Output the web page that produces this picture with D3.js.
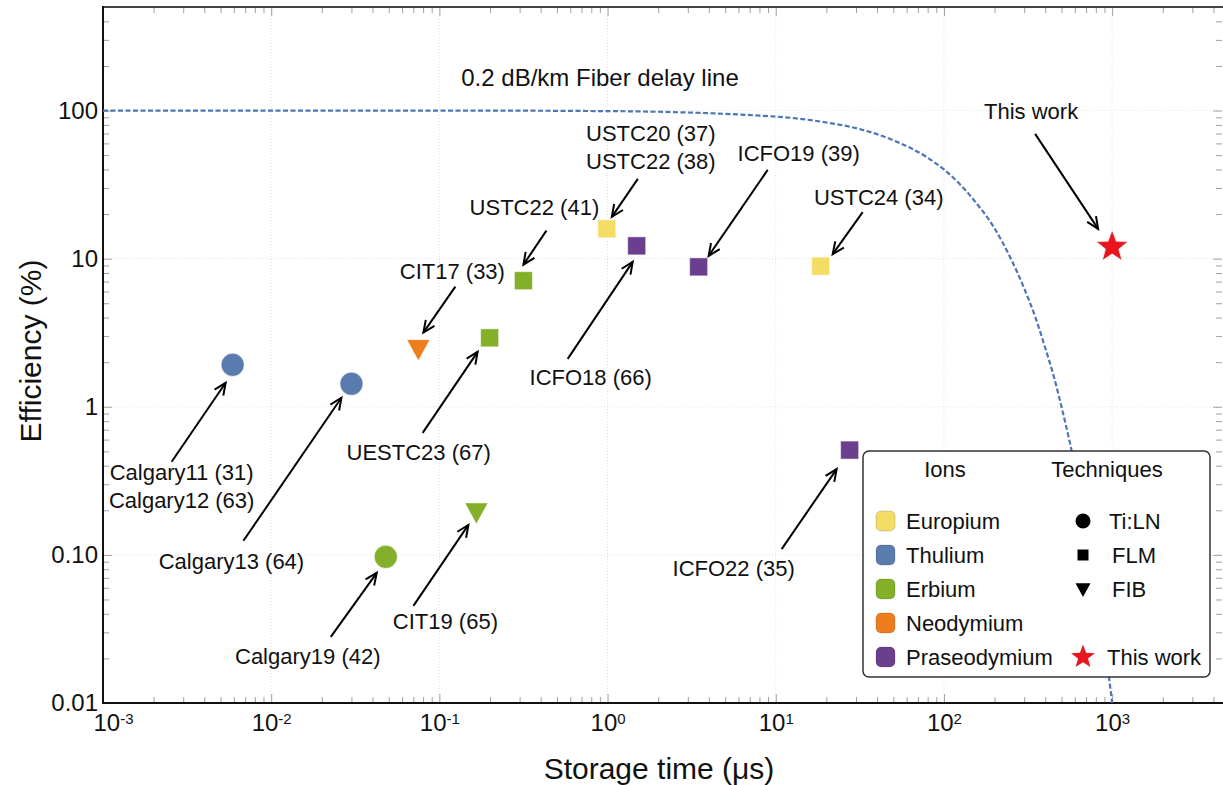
<!DOCTYPE html>
<html>
<head>
<meta charset="utf-8">
<script src="https://cdn.jsdelivr.net/npm/d3@7/dist/d3.min.js"></script>
<style>
  body { margin: 0; background: #fff; }
  text { font-family: "Liberation Sans", Arial, sans-serif; fill: #111; }
</style>
</head>
<body>
<svg id="chart" width="1223" height="785"></svg>
<script>

// ---- data ----
var names = ['Calgary11', 'Calgary13', 'Calgary19', 'CIT17', 'CIT19', 'UESTC23', 'USTC22', 'USTC20', 'ICFO18', 'ICFO19', 'USTC24', 'ICFO22', 'This work']
var times = [0.0059, 0.030, 0.048, 0.075, 0.166, 0.199, 0.316, 0.99, 1.49, 3.48, 18.5, 27.5, 1000]   // storage time, us
var effs = [1.92, 1.43, 0.097, 2.47, 0.195, 2.92, 7.1, 15.9, 12.2, 8.8, 8.9, 0.51, 12.0]            // efficiency, %
var ions = ['Thulium', 'Thulium', 'Erbium', 'Neodymium', 'Erbium', 'Erbium', 'Erbium', 'Europium', 'Praseodymium', 'Praseodymium', 'Europium', 'Praseodymium', 'This work']
var techs = ['Ti:LN', 'Ti:LN', 'Ti:LN', 'FIB', 'FIB', 'FLM', 'FLM', 'FLM', 'FLM', 'FLM', 'FLM', 'FLM', 'This work']
var labels = [
	['Calgary11 (31)', 'Calgary12 (63)'], ['Calgary13 (64)'], ['Calgary19 (42)'], ['CIT17 (33)'],
	['CIT19 (65)'], ['UESTC23 (67)'], ['USTC22 (41)'], ['USTC20 (37)', 'USTC22 (38)'], ['ICFO18 (66)'],
	['ICFO19 (39)'], ['USTC24 (34)'], ['ICFO22 (35)'], ['This work']
]

// 0.2 dB/km fiber delay line
var fiberTimes = [0.001, 0.1, 1, 10, 20, 30, 50, 80, 100, 150, 200, 250, 300, 350, 400, 450, 500, 550, 600, 650, 700, 750, 800, 850, 900, 950, 1000]
var fiberEffs = [100, 100, 99.1, 91, 83, 76, 63, 48, 40, 25, 16, 10, 6.3, 4, 2.5, 1.6, 1.0, 0.63, 0.4, 0.25, 0.16, 0.1, 0.063, 0.04, 0.025, 0.016, 0.01]

var ionNames = ['Europium', 'Thulium', 'Erbium', 'Neodymium', 'Praseodymium']
var techNames = ['Ti:LN', 'FLM', 'FIB']
var xTicks = [1e-3, 1e-2, 1e-1, 1, 10, 100, 1000]
var yTicks = [0.01, 0.1, 1, 10, 100]
var yTickLabels = ['0.01', '0.10', '1', '10', '100']

// ---- look ----
var ionColor = {
	'Europium': '#f3dd64',
	'Thulium': '#5a7bad',
	'Erbium': '#83af29',
	'Neodymium': '#ee7d1e',
	'Praseodymium': '#6c3e8e',
	'This work': '#e8141e'
}

// label / arrow offsets from each point, px
var notes = [
	{lx: -51, ly: 108, tail: [-61, 97], head: [-7, 18]},
	{lx: -120, ly: 178, tail: [-108, 157], head: [-10, 14]},
	{lx: -78, ly: 100, tail: [-55, 80], head: [-9, 16]},
	{lx: 34, ly: -77, tail: [37, -62], head: [5, -16]},
	{lx: -31, ly: 110, tail: [-63, 94], head: [-8, 13]},
	{lx: -71, ly: 115, tail: [-67, 95], head: [-12, 14]},
	{lx: 11, ly: -73, tail: [23, -50], head: [0, -16]},
	{lx: 44, ly: -95, tail: [31, -50], head: [5, -12]},
	{lx: -46, ly: 132, tail: [-69, 113], head: [-4, 16]},
	{lx: 100, ly: -113, tail: [69, -97], head: [10, -11]},
	{lx: 58, ly: -69, tail: [42, -54], head: [12, -12]},
	{lx: -116, ly: 118, tail: [-68, 99], head: [-13, 19]},
	{lx: -81, ly: -135, tail: [-77, -113], head: [-14, -18]}
]

var W = 1223, H = 785
var plot = {left: 103, right: 1222, top: 7, bottom: 703}

var svg = d3.select('#chart')

var x = d3.scaleLog().domain([1e-3, 4500]).range([plot.left, plot.right])
var y = d3.scaleLog().domain([0.01, 500]).range([plot.bottom, plot.top])

// minor tick values
function minors(lo, hi){
	var out = []
	for(var e = lo; e < hi; e++){
		for(var k = 2; k < 10; k++){
			var v = k * Math.pow(10, e)
			out.push(v)
		}
	}
	return out
}
var xMinor = minors(-3, 4).filter(function(v){ return v < 4500 })
var yMinor = minors(-2, 3).filter(function(v){ return v < 500 })

// grid
svg.append('g').selectAll('line').data(xTicks).enter().append('line')
	.attr('x1', function(d){ return x(d) }).attr('x2', function(d){ return x(d) })
	.attr('y1', plot.top).attr('y2', plot.bottom)
	.attr('stroke', '#e2e2e2').attr('stroke-dasharray', '1,2')
svg.append('g').selectAll('line').data(yTicks).enter().append('line')
	.attr('y1', function(d){ return y(d) }).attr('y2', function(d){ return y(d) })
	.attr('x1', plot.left).attr('x2', plot.right)
	.attr('stroke', '#e2e2e2').attr('stroke-dasharray', '1,2')

// ticks on the four sides (pointing inward)
function tickAxis(axisFn, scale, vals, size, tr){
	var g = svg.append('g').attr('transform', tr)
		.call(axisFn(scale).tickValues(vals).tickSize(size).tickFormat(''))
	g.select('.domain').remove()
	g.selectAll('.tick line').attr('stroke', '#a0a0a0')
	return g
}
tickAxis(d3.axisBottom, x, xMinor, -6, 'translate(0,' + plot.bottom + ')')
tickAxis(d3.axisBottom, x, xTicks, -9, 'translate(0,' + plot.bottom + ')')
tickAxis(d3.axisTop, x, xMinor, -6, 'translate(0,' + plot.top + ')')
tickAxis(d3.axisTop, x, xTicks, -9, 'translate(0,' + plot.top + ')')
tickAxis(d3.axisLeft, y, yMinor, -6, 'translate(' + plot.left + ',0)')
tickAxis(d3.axisLeft, y, yTicks, -9, 'translate(' + plot.left + ',0)')
tickAxis(d3.axisRight, y, yMinor, -6, 'translate(' + plot.right + ',0)')
tickAxis(d3.axisRight, y, yTicks, -9, 'translate(' + plot.right + ',0)')

// tick labels
var xl = svg.append('g').attr('transform', 'translate(0,' + plot.bottom + ')')
	.call(d3.axisBottom(x).tickValues(xTicks).tickSize(0).tickPadding(11).tickFormat(''))
xl.select('.domain').remove()
xl.selectAll('.tick text').each(function(d, i){
	var t = d3.select(this).attr('font-size', 24).attr('fill', '#111')
	if(i == 0) t.attr('dx', 10)
	t.append('tspan').text('10')
	t.append('tspan').attr('dy', '-0.45em').attr('font-size', 15).text(String(Math.round(Math.log10(d))))
})

var yl = svg.append('g').attr('transform', 'translate(' + plot.left + ',0)')
	.call(d3.axisLeft(y).tickValues(yTicks).tickSize(0).tickPadding(5)
		.tickFormat(function(d, i){ return yTickLabels[i] }))
yl.select('.domain').remove()
yl.selectAll('.tick text').attr('font-size', 24).attr('fill', '#111')

// frame
svg.append('line').attr('x1', plot.left).attr('x2', W).attr('y1', plot.top).attr('y2', plot.top)
	.attr('stroke', '#444').attr('stroke-width', 2)
svg.append('line').attr('x1', plot.left).attr('x2', plot.left).attr('y1', plot.top - 1).attr('y2', plot.bottom + 1)
	.attr('stroke', '#111').attr('stroke-width', 2)
svg.append('line').attr('x1', plot.left).attr('x2', W).attr('y1', plot.bottom).attr('y2', plot.bottom)
	.attr('stroke', '#111').attr('stroke-width', 2)

// axis titles
svg.append('text').attr('x', 659).attr('y', 768).attr('text-anchor', 'middle')
	.attr('dominant-baseline', 'central').attr('font-size', 30).text('Storage time (μs)')
svg.append('text').attr('transform', 'translate(30,351) rotate(-90)').attr('text-anchor', 'middle')
	.attr('dominant-baseline', 'central').attr('font-size', 30).text('Efficiency (%)')

// fiber delay line
svg.append('clipPath').attr('id', 'clip').append('rect')
	.attr('x', plot.left).attr('y', plot.top).attr('width', plot.right - plot.left).attr('height', plot.bottom - plot.top)

var fiberLine = d3.line()
	.x(function(d, i){ return x(fiberTimes[i]) })
	.y(function(d, i){ return y(fiberEffs[i]) })
	.curve(d3.curveMonotoneX)
svg.append('path').datum(fiberTimes)
	.attr('d', fiberLine)
	.attr('clip-path', 'url(#clip)')
	.attr('fill', 'none').attr('stroke', '#4d76b4').attr('stroke-width', 2.2)
	.attr('stroke-dasharray', '5,2.5')
svg.append('text').attr('x', 600).attr('y', 77).attr('text-anchor', 'middle')
	.attr('dominant-baseline', 'central').attr('font-size', 24).text('0.2 dB/km Fiber delay line')

// marker shapes
function shapePath(tech, s){
	if(tech == 'Ti:LN') return d3.symbol(d3.symbolCircle, Math.PI * s * s)()
	if(tech == 'FLM') return d3.symbol(d3.symbolSquare, 4 * s * s)()
	if(tech == 'FIB') return 'M' + (-s) + ',' + (-0.78 * s) + 'L' + s + ',' + (-0.78 * s) + 'L0,' + (1.05 * s) + 'Z'
	// star
	var pts = []
	for(var k = 0; k < 10; k++){
		var r = k % 2 == 0 ? s : s * 0.42
		var a = -Math.PI / 2 + k * Math.PI / 5
		pts.push([r * Math.cos(a), r * Math.sin(a)])
	}
	return 'M' + pts.join('L') + 'Z'
}
var markerSize = {'Ti:LN': 11.5, 'FLM': 9, 'FIB': 11.5, 'This work': 16.5}

// points
svg.append('g').selectAll('path').data(names).enter().append('path')
	.attr('transform', function(d, i){ return 'translate(' + x(times[i]) + ',' + y(effs[i]) + ')' })
	.attr('d', function(d, i){ return shapePath(techs[i], markerSize[techs[i]]) })
	.attr('fill', function(d, i){ return ionColor[ions[i]] })
	.attr('stroke', 'rgba(255,255,255,0.5)').attr('stroke-width', 1)

// annotations
function arrow(g, x0, y0, x1, y1){
	var ang = Math.atan2(y1 - y0, x1 - x0), len = 13, spread = 0.42
	g.append('line').attr('x1', x0).attr('y1', y0).attr('x2', x1).attr('y2', y1)
		.attr('stroke', '#000').attr('stroke-width', 2)
	var a = [x1 - len * Math.cos(ang - spread), y1 - len * Math.sin(ang - spread)]
	var b = [x1 - len * Math.cos(ang + spread), y1 - len * Math.sin(ang + spread)]
	g.append('path').attr('d', 'M' + a + 'L' + x1 + ',' + y1 + 'L' + b)
		.attr('fill', 'none').attr('stroke', '#000').attr('stroke-width', 2)
}
var ann = svg.append('g')
names.forEach(function(n, i){
	var px = x(times[i]), py = y(effs[i]), nt = notes[i]
	arrow(ann, px + nt.tail[0], py + nt.tail[1], px + nt.head[0], py + nt.head[1])
	labels[i].forEach(function(s, j){
		ann.append('text').attr('x', px + nt.lx).attr('y', py + nt.ly + j * 27.5)
			.attr('text-anchor', 'middle').attr('dominant-baseline', 'central')
			.attr('font-size', 22).text(s)
	})
})

// legend
var lg = svg.append('g').attr('transform', 'translate(863,451)')
lg.append('rect').attr('width', 347).attr('height', 226).attr('rx', 6)
	.attr('fill', '#fff').attr('stroke', '#333').attr('stroke-width', 1.5)
lg.append('text').attr('x', 82).attr('y', 18).attr('text-anchor', 'middle')
	.attr('dominant-baseline', 'central').attr('font-size', 22).text('Ions')
lg.append('text').attr('x', 244).attr('y', 18).attr('text-anchor', 'middle')
	.attr('dominant-baseline', 'central').attr('font-size', 22).text('Techniques')

var ionRow = lg.selectAll('.ion').data(ionNames).enter().append('g')
	.attr('transform', function(d, i){ return 'translate(0,' + (70 + i * 34) + ')' })
ionRow.append('rect').attr('x', 13).attr('y', -10).attr('width', 19).attr('height', 20).attr('rx', 5)
	.attr('fill', function(d){ return ionColor[d] }).attr('stroke', 'rgba(0,0,0,0.15)')
ionRow.append('text').attr('x', 43).attr('dominant-baseline', 'central').attr('font-size', 22)
	.text(function(d){ return d })

var techRow = lg.selectAll('.tech').data(techNames.concat(['This work'])).enter().append('g')
	.attr('transform', function(d, i){ return 'translate(220,' + (70 + (i < 3 ? i : 4) * 34) + ')' })
techRow.append('path')
	.attr('d', function(d){ return shapePath(d, {'Ti:LN': 7.5, 'FLM': 5.5, 'FIB': 7.5, 'This work': 12.5}[d]) })
	.attr('fill', function(d){ return d == 'This work' ? ionColor['This work'] : '#000' })
techRow.append('text').attr('x', function(d){ return d == 'Ti:LN' ? 26 : d == 'This work' ? 24 : 29 })
	.attr('dominant-baseline', 'central').attr('font-size', 22)
	.text(function(d){ return d })

</script>
</body>
</html>
